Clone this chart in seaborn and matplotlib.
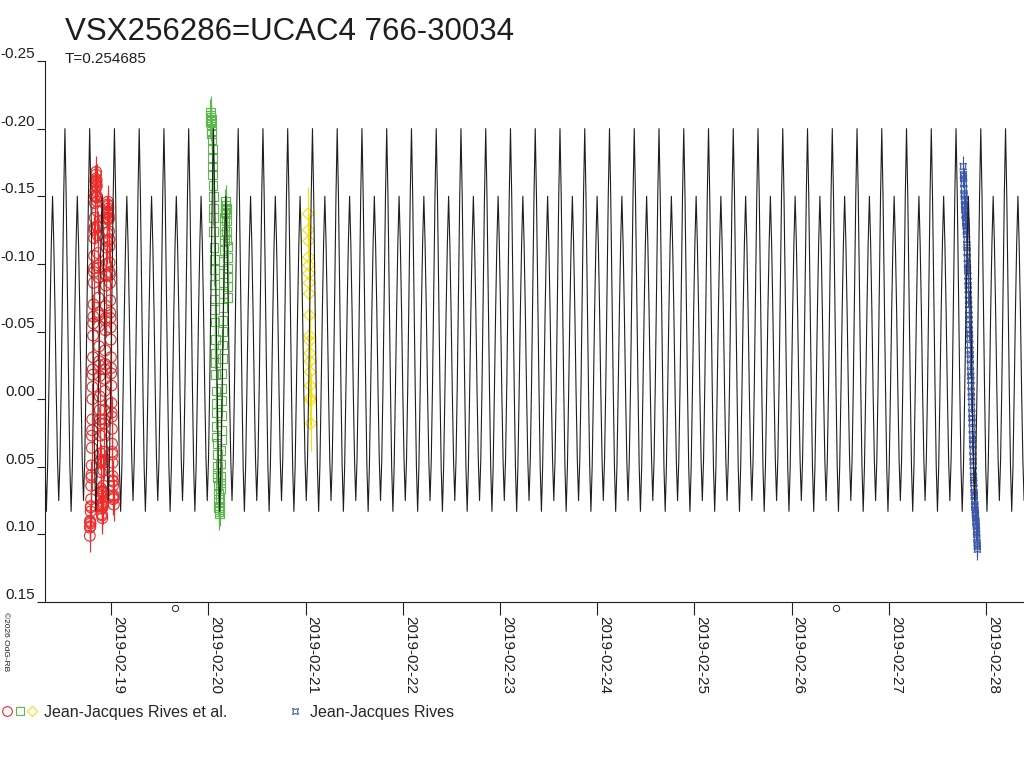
import numpy as np
import pandas as pd
import matplotlib
matplotlib.use("Agg")
import matplotlib.pyplot as plt
import seaborn as sns
from matplotlib.lines import Line2D
from matplotlib.legend_handler import HandlerTuple

# ephemeris of the model light curve
period = 0.254685
epoch_max = 22.598   # day of Feb 2019, primary maximum

# one cycle of the model curve (phase from primary max)
model_phase = [0.00, 0.05, 0.10, 0.15, 0.20, 0.25, 0.30, 0.35, 0.40, 0.45,
               0.50, 0.55, 0.60, 0.65, 0.70, 0.75, 0.80, 0.85, 0.90, 0.95]
model_mag = [-0.200, -0.150, -0.080, -0.010, 0.050, 0.083, 0.050, -0.005, -0.065, -0.115,
             -0.150, -0.115, -0.065, -0.005, 0.045, 0.075, 0.045, -0.010, -0.080, -0.150]

# observations, time as day of February 2019
red_t = [18.780, 18.783, 18.786, 18.789, 18.792, 18.795, 18.798, 18.801, 18.804, 18.807,
         18.810, 18.813, 18.816, 18.819, 18.822, 18.825, 18.828, 18.831, 18.834, 18.837,
         18.840, 18.843, 18.846, 18.849, 18.852, 18.855, 18.858, 18.861, 18.864, 18.867,
         18.870, 18.873, 18.876, 18.879, 18.882, 18.885, 18.888, 18.891, 18.894, 18.897,
         18.900, 18.903, 18.906, 18.909, 18.912, 18.915, 18.918, 18.921, 18.924, 18.927,
         18.930, 18.933, 18.936, 18.939, 18.942, 18.945, 18.948, 18.951, 18.954, 18.957,
         18.960, 18.963, 18.966, 18.969, 18.972, 18.975, 18.978, 18.981, 18.984, 18.987,
         18.990, 18.993, 18.996, 18.999, 19.002, 19.005, 19.008, 19.011, 19.014, 19.017,
         19.020, 19.023, 19.026]
red_mag = [0.095, 0.091, 0.092, 0.080, 0.074, 0.058, 0.049, 0.027, 0.015, -0.009,
           -0.022, -0.047, -0.061, -0.086, -0.097, -0.119, -0.127, -0.145, -0.150, -0.161,
           -0.158, -0.166, -0.160, -0.162, -0.149, -0.146, -0.128, -0.121, -0.099, -0.090,
           -0.064, -0.054, -0.028, -0.017, 0.008, 0.018, 0.040, 0.046, 0.066, 0.068,
           0.081, 0.078, 0.086, 0.079, 0.080, 0.068, 0.064, 0.047, 0.039, 0.018,
           0.008, -0.015, -0.026, -0.051, -0.060, -0.084, -0.092, -0.112, -0.117, -0.133,
           -0.134, -0.144, -0.139, -0.143, -0.134, -0.133, -0.118, -0.113, -0.094, -0.086,
           -0.064, -0.053, -0.031, -0.019, 0.003, 0.013, 0.033, 0.041, 0.057, 0.061,
           0.072, 0.071, 0.078]
red_t2 = [18.7815, 18.7845, 18.7875, 18.7905, 18.7935, 18.7965, 18.7995, 18.8025, 18.8055, 18.8085,
          18.8115, 18.8145, 18.8175, 18.8205, 18.8235, 18.8265, 18.8295, 18.8325, 18.8355, 18.8385,
          18.8415, 18.8445, 18.8475, 18.8505, 18.8535, 18.8565, 18.8595, 18.8625, 18.8655, 18.8685,
          18.8715, 18.8745, 18.8775, 18.8805, 18.8835, 18.8865, 18.8895, 18.8925, 18.8955, 18.8985,
          18.9015, 18.9045, 18.9075, 18.9105, 18.9135, 18.9165, 18.9195, 18.9225, 18.9255, 18.9285,
          18.9315, 18.9345, 18.9375, 18.9405, 18.9435, 18.9465, 18.9495, 18.9525, 18.9555, 18.9585,
          18.9615, 18.9645, 18.9675, 18.9705, 18.9735, 18.9765, 18.9795, 18.9825, 18.9855, 18.9885,
          18.9915, 18.9945, 18.9975, 19.0005, 19.0035, 19.0065, 19.0095, 19.0125, 19.0155, 19.0185,
          19.0215, 19.0245, 18.7790]
red_mag2 = [0.090, 0.094, 0.083, 0.079, 0.064, 0.056, 0.036, 0.023, 0.000, -0.018,
            -0.031, -0.056, -0.070, -0.094, -0.106, -0.125, -0.134, -0.150, -0.154, -0.163,
            -0.160, -0.168, -0.157, -0.158, -0.150, -0.139, -0.127, -0.108, -0.097, -0.075,
            -0.062, -0.039, -0.025, -0.002, 0.015, 0.027, 0.045, 0.054, 0.069, 0.072,
            0.085, 0.079, 0.088, 0.077, 0.076, 0.069, 0.053, 0.045, 0.026, 0.015,
            -0.006, -0.022, -0.036, -0.058, -0.069, -0.091, -0.100, -0.117, -0.123, -0.138,
            -0.137, -0.146, -0.138, -0.141, -0.136, -0.124, -0.118, -0.101, -0.092, -0.073,
            -0.060, -0.044, -0.023, -0.010, 0.010, 0.022, 0.039, 0.047, 0.060, 0.064,
            0.074, 0.073, 0.101]

green_t = [20.018, 20.022, 20.026, 20.030, 20.034, 20.038, 20.042, 20.046, 20.050, 20.054,
           20.058, 20.062, 20.066, 20.070, 20.074, 20.078, 20.082, 20.086, 20.090, 20.094,
           20.098, 20.102, 20.106, 20.110, 20.114, 20.118, 20.122, 20.126, 20.130, 20.134,
           20.138, 20.142, 20.146, 20.150, 20.154, 20.158, 20.162, 20.166, 20.170, 20.174,
           20.178, 20.182, 20.186, 20.190, 20.194, 20.198, 20.202]
green_mag = [-0.205, -0.212, -0.208, -0.203, -0.196, -0.185, -0.172, -0.158, -0.141, -0.124,
             -0.103, -0.085, -0.066, -0.044, -0.027, -0.006, 0.010, 0.028, 0.041, 0.055,
             0.064, 0.074, 0.080, 0.085, 0.082, 0.073, 0.062, 0.048, 0.030, 0.012,
             -0.008, -0.030, -0.050, -0.068, -0.086, -0.102, -0.117, -0.128, -0.138, -0.143,
             -0.146, -0.141, -0.132, -0.118, -0.105, -0.090, -0.075]
green_t2 = [20.020, 20.024, 20.028, 20.032, 20.036, 20.040, 20.044, 20.048, 20.052, 20.056,
            20.060, 20.064, 20.068, 20.072, 20.076, 20.080, 20.084, 20.088, 20.092, 20.096,
            20.100, 20.104, 20.108, 20.112, 20.116, 20.120, 20.124, 20.128, 20.132, 20.136,
            20.140, 20.144, 20.148, 20.152, 20.156, 20.160, 20.164, 20.168, 20.172, 20.176,
            20.180, 20.184, 20.188, 20.192, 20.196, 20.200]
green_mag2 = [-0.210, -0.206, -0.207, -0.198, -0.192, -0.178, -0.166, -0.150, -0.134, -0.112,
              -0.096, -0.074, -0.057, -0.034, -0.018, 0.003, 0.020, 0.033, 0.050, 0.058,
              0.070, 0.076, 0.083, 0.080, 0.079, 0.066, 0.057, 0.038, 0.023, 0.001,
              -0.019, -0.040, -0.058, -0.078, -0.093, -0.110, -0.122, -0.134, -0.140, -0.146,
              -0.143, -0.137, -0.124, -0.113, -0.097, -0.083]

yellow_t = [21.026, 21.028, 21.030, 21.031, 21.033, 21.034, 21.036, 21.037, 21.039,
            21.040, 21.042, 21.043, 21.045, 21.046, 21.048, 21.049, 21.051, 21.053]
yellow_mag = [-0.137, -0.125, -0.117, -0.105, -0.099, -0.093, -0.086, -0.078, -0.062,
              -0.047, -0.043, -0.034, -0.028, -0.020, -0.010, -0.001, 0.001, 0.018]

blue_t = [27.765, 27.768, 27.771, 27.774, 27.777, 27.780, 27.783, 27.786, 27.789, 27.792,
          27.795, 27.798, 27.801, 27.804, 27.807, 27.810, 27.813, 27.816, 27.819, 27.822,
          27.825, 27.828, 27.831, 27.834, 27.837, 27.840, 27.843, 27.846, 27.849, 27.852,
          27.855, 27.858, 27.861, 27.864, 27.867, 27.870, 27.873, 27.876, 27.879, 27.882,
          27.885, 27.888, 27.891, 27.894, 27.897, 27.900, 27.903, 27.906, 27.909, 27.912]
blue_mag = [-0.172, -0.165, -0.160, -0.152, -0.147, -0.143, -0.140, -0.137, -0.134, -0.131,
            -0.128, -0.124, -0.118, -0.112, -0.104, -0.097, -0.091, -0.084, -0.077, -0.070,
            -0.062, -0.055, -0.048, -0.040, -0.033, -0.025, -0.017, -0.010, -0.002, 0.006,
            0.014, 0.022, 0.030, 0.038, 0.046, 0.053, 0.060, 0.066, 0.071, 0.075,
            0.079, 0.082, 0.085, 0.088, 0.091, 0.094, 0.098, 0.103, 0.108, 0.111]
blue_t2 = [27.7665, 27.7695, 27.7725, 27.7755, 27.7785, 27.7815, 27.7845, 27.7875, 27.7905, 27.7935,
           27.7965, 27.7995, 27.8025, 27.8055, 27.8085, 27.8115, 27.8145, 27.8175, 27.8205, 27.8235,
           27.8265, 27.8295, 27.8325, 27.8355, 27.8385, 27.8415, 27.8445, 27.8475, 27.8505, 27.8535,
           27.8565, 27.8595, 27.8625, 27.8655, 27.8685, 27.8715, 27.8745, 27.8775, 27.8805, 27.8835,
           27.8865, 27.8895, 27.8925, 27.8955, 27.8985, 27.9015, 27.9045, 27.9075, 27.9105]
blue_mag2 = [-0.166, -0.163, -0.155, -0.150, -0.144, -0.142, -0.136, -0.136, -0.131, -0.130,
             -0.125, -0.122, -0.114, -0.109, -0.100, -0.095, -0.087, -0.081, -0.073, -0.066,
             -0.059, -0.051, -0.045, -0.036, -0.030, -0.020, -0.014, -0.005, 0.002, 0.011,
             0.017, 0.027, 0.033, 0.043, 0.049, 0.058, 0.062, 0.069, 0.072, 0.078,
             0.080, 0.084, 0.086, 0.090, 0.092, 0.097, 0.100, 0.106, 0.109]

err_red, err_green, err_yellow, err_blue = 0.012, 0.012, 0.02, 0.008

tick_days = [19, 20, 21, 22, 23, 24, 25, 26, 27, 28]
tick_labels = ["2019-02-19", "2019-02-20", "2019-02-21", "2019-02-22", "2019-02-23",
               "2019-02-24", "2019-02-25", "2019-02-26", "2019-02-27", "2019-02-28"]
mag_ticks = [-0.25, -0.20, -0.15, -0.10, -0.05, 0.00, 0.05, 0.10, 0.15]
moon_days = [19.657, 26.458]

sns.set_style("ticks")
plt.rcParams['font.family'] = ['Liberation Sans', 'DejaVu Sans']

fig = plt.figure(figsize=(10.24, 7.68), dpi=100)
ax = fig.add_axes([45/1024, 1-602/768, 1-45/1024, (602-61)/768])

# model curve, one template repeated every period
rows = []
for k in range(-20, 30):
    for ph, m in zip(model_phase, model_mag):
        rows.append((epoch_max + (k + ph) * period, m))
model = pd.DataFrame(rows, columns=["t", "mag"])
model = model[(model.t > 18.2) & (model.t < 28.5)]

series = [
    (red_t + red_t2, red_mag + red_mag2, err_red, "#ee2b2b", "o", 60),
    (green_t + green_t2, green_mag + green_mag2, err_green, "#5cb84c", "s", 40),
    (yellow_t, yellow_mag, err_yellow, "#f3df0c", "D", 36),
    (blue_t + blue_t2, blue_mag + blue_mag2, err_blue, "#3a56a8", (4, 1, 45), 42),
]
for t, m, e, c, mk, s in series:
    ax.errorbar(t, m, yerr=e, fmt="none", ecolor=c, elinewidth=0.8, capsize=0, zorder=2)
    sns.scatterplot(x=t, y=m, ax=ax, marker=mk, s=s, facecolors="none",
                    edgecolor=c, linewidth=0.8, zorder=2, legend=False)

sns.lineplot(data=model, x="t", y="mag", ax=ax, sort=False, estimator=None,
             color="#1e1e1e", linewidth=0.8, zorder=3)

ax.plot(moon_days, [0.1545, 0.1545], ls="none", marker="o", ms=4.5, mfc="none",
        mec="#222222", mew=0.7, clip_on=False)

ax.set_xlim(18.318, 28.391)
ax.set_ylim(0.15, -0.25)
ax.set_xlabel("")
ax.set_ylabel("")
sns.despine(ax=ax)
for sp in ["left", "bottom"]:
    ax.spines[sp].set_color("#1e1e1e")
    ax.spines[sp].set_linewidth(0.8)

ax.set_yticks(mag_ticks)
ax.set_yticklabels(["%.2f" % v for v in mag_ticks])
ax.set_xticks(tick_days)
ax.set_xticklabels(tick_labels, rotation=270, ha="left", va="top")
ax.tick_params(axis="y", length=6, width=0.8, pad=1, labelsize=11, colors="#1e1e1e")
ax.tick_params(axis="x", length=9, width=0.8, pad=1, labelsize=11, colors="#1e1e1e")
for lab in ax.get_yticklabels():
    lab.set_va("bottom")

fig.text(65/1024, 1-40/768, "VSX256286=UCAC4 766-30034", fontsize=22.5,
         va="baseline", ha="left", color="#1e1e1e")
fig.text(65/1024, 1-63/768, "T=0.254685", fontsize=11, va="baseline", ha="left",
         color="#1e1e1e")
fig.text(2/1024, 1-612/768, "©2026 OdG-RB", fontsize=6, rotation=270,
         va="top", ha="left", color="#1e1e1e")

h_red = Line2D([], [], ls="none", marker="o", ms=7, mfc="none", mec="#ee2b2b", mew=0.8)
h_green = Line2D([], [], ls="none", marker="s", ms=5.5, mfc="none", mec="#5cb84c", mew=0.8)
h_yellow = Line2D([], [], ls="none", marker="D", ms=5, mfc="none", mec="#f3df0c", mew=0.8)
h_blue = Line2D([], [], ls="none", marker=(4, 1, 45), ms=6, mfc="none", mec="#3a56a8", mew=0.8)

fig.legend(handles=[(h_red, h_green, h_yellow)], labels=["Jean-Jacques Rives et al."],
           handler_map={tuple: HandlerTuple(ndivide=None, pad=0.1)},
           loc="center left", bbox_to_anchor=(2/1024, 1-712/768), frameon=False,
           fontsize=11.5, handlelength=2.2, handletextpad=0.4, borderpad=0,
           borderaxespad=0)
fig.legend(handles=[h_blue], labels=["Jean-Jacques Rives"],
           loc="center left", bbox_to_anchor=(289/1024, 1-712/768), frameon=False,
           fontsize=11.5, handlelength=0.8, handletextpad=0.5, borderpad=0,
           borderaxespad=0)

fig.savefig("out.png", dpi=100, facecolor="white")
